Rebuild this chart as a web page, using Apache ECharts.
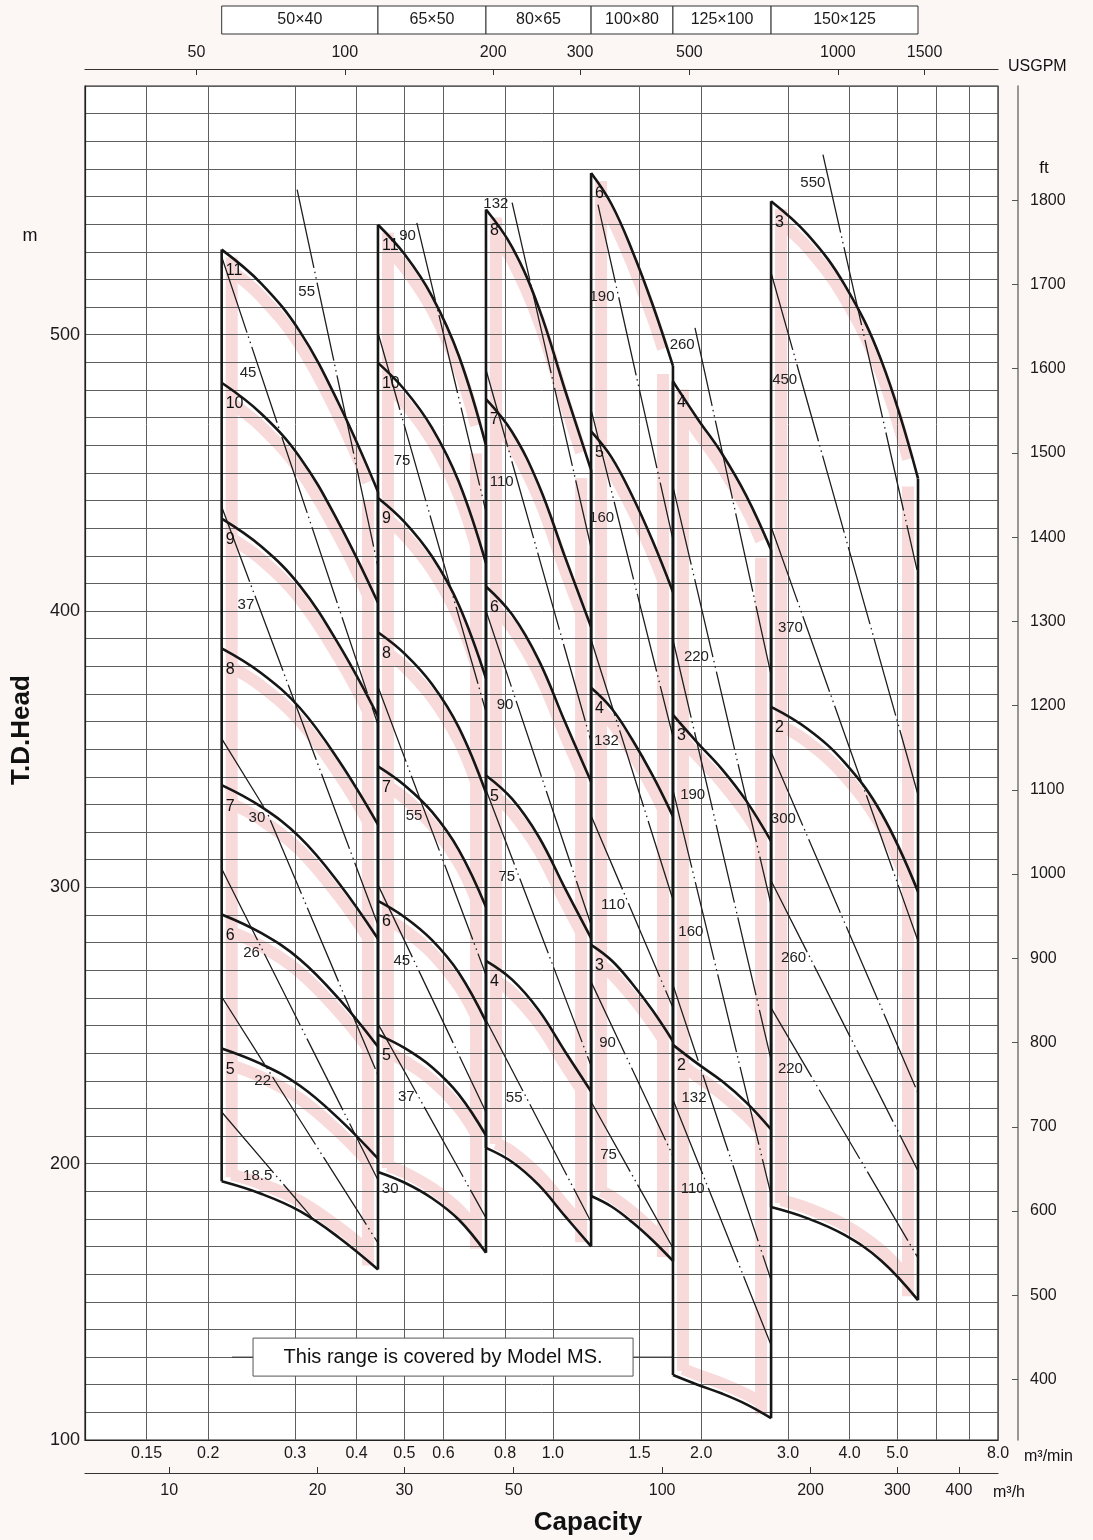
<!DOCTYPE html>
<html>
<head>
<meta charset="utf-8">
<script src="https://cdn.jsdelivr.net/npm/echarts@6.0.0/dist/echarts.min.js"></script>
<style>
html,body{margin:0;padding:0;background:#fcf6f5;}
#chart{width:1093px;height:1540px;}
</style>
</head>
<body>
<div id="chart"></div>
<script>
// ================= DATA =================
const sizeLabels = ['50×40','65×50','80×65','100×80','125×100','150×125'];

// axis ticks
const qGrid   = [0.15,0.2,0.3,0.4,0.5,0.6,0.8,1,1.5,2,3,4,5,6,7,8];
const qLabels = [0.15,0.2,0.3,0.4,0.5,0.6,0.8,1,1.5,2,3,4,5,8];
const m3hTicks = [10,20,30,50,100,200,300,400];
const gpmTicks = [50,100,200,300,500,1000,1500];
const ftTicks  = [400,500,600,700,800,900,1000,1100,1200,1300,1400,1500,1600,1700,1800];

// capacity points (m3/min) along the curves of each size
const qF1 = [0.213, 0.256, 0.307, 0.368, 0.442];
const qF2 = [0.442, 0.501, 0.569, 0.645, 0.732];
const qF3 = [0.732, 0.827, 0.936, 1.059, 1.196];
const qF4 = [1.196, 1.315, 1.448, 1.593, 1.753];
const qF5 = [1.753, 1.966, 2.203, 2.471, 2.772];
const qF6 = [2.772, 3.289, 3.906, 4.638, 5.506];

// stage labels and head (m) of each H-Q curve
const stF1 = ['11','10','9','8','7','6','5',''];
const hF1 = [
  [530.8, 518.6, 501.1, 475.1, 443.2],
  [482.6, 471.5, 455.6, 431.9, 403.0],
  [433.4, 423.4, 409.1, 387.9, 361.9],
  [386.5, 377.6, 364.9, 345.9, 322.7],
  [337.0, 329.2, 318.1, 301.6, 281.4],
  [290.2, 283.5, 273.9, 259.7, 242.3],
  [241.7, 236.1, 228.2, 216.3, 201.8],
  [193.6, 189.1, 182.8, 173.3, 161.7]
];
const stF2 = ['11','10','9','8','7','6','5',''];
const hF2 = [
  [539.8, 529.0, 513.9, 492.3, 459.9],
  [489.8, 480.0, 466.3, 446.7, 417.3],
  [440.9, 432.1, 419.7, 402.1, 375.6],
  [392.3, 384.5, 373.5, 357.8, 334.2],
  [343.8, 336.9, 327.3, 313.5, 292.9],
  [295.1, 289.2, 280.9, 269.1, 251.4],
  [246.7, 241.8, 234.9, 225.0, 210.2],
  [197.0, 193.1, 187.5, 179.7, 167.8]
];
const stF3 = ['8','7','6','5','4',''];
const hF3 = [
  [545.3, 531.7, 509.9, 479.9, 451.0],
  [476.7, 464.8, 445.7, 419.5, 394.2],
  [408.9, 398.7, 382.3, 359.8, 338.2],
  [340.5, 332.0, 318.4, 299.6, 281.6],
  [273.4, 266.6, 255.6, 240.6, 226.1],
  [205.7, 200.6, 192.3, 181.0, 170.1]
];
const stF4 = ['6','5','4','3',''];
const hF4 = [
  [558.5, 547.3, 530.6, 511.0, 488.7],
  [465.0, 455.7, 441.8, 425.5, 406.9],
  [372.2, 364.8, 353.6, 340.6, 325.7],
  [279.2, 273.6, 265.2, 255.5, 244.3],
  [188.3, 184.5, 178.9, 172.3, 164.8]
];
const stF5 = ['4','3','2',''];
const hF5 = [
  [483.1, 469.6, 457.0, 441.6, 422.2],
  [362.4, 352.3, 342.8, 331.2, 316.7],
  [243.0, 236.2, 229.9, 222.1, 212.4],
  [123.5, 120.0, 116.8, 112.9, 107.9]
];
const stF6 = ['3','2',''];
const hF6 = [
  [548.3, 536.2, 518.1, 490.7, 448.0],
  [365.3, 357.3, 345.2, 326.9, 298.4],
  [184.3, 180.2, 174.2, 164.9, 150.6]
];

// motor kW lines: [kW, head of label, points [Q, H]]
const kwF1 = [
  ['55', 515.6, [[0.303,552.5],[0.442,416.0]]],
  ['45', 486.2, [[0.213,528.2],[0.442,358.8]]],
  ['37', 402.3, [[0.213,437.7],[0.442,286.4]]],
  ['30', 325.2, [[0.213,353.8],[0.263,327.3],[0.442,232.1]]],
  ['26', 276.3, [[0.213,306.7],[0.442,194.1]]],
  ['22', 230.0, [[0.213,260.4],[0.442,171.3]]],
  ['18.5', 195.6, [[0.213,218.7],[0.325,180.4]]]
];
const kwF2 = [
  ['90', 535.8, [[0.530,540.5],[0.732,435.9]]],
  ['75', 454.4, [[0.442,500.7],[0.732,363.5]]],
  ['55', 325.9, [[0.442,372.6],[0.732,268.3]]],
  ['45', 273.4, [[0.442,300.9],[0.732,218.7]]],
  ['37', 224.2, [[0.442,250.6],[0.732,180.4]]]
];
const kwF3 = [
  ['132', 547.4, [[0.827,547.8],[1.196,422.9]]],
  ['110', 446.8, [[0.732,487.3],[1.196,352.7]]],
  ['90', 366.1, [[0.732,400.1],[1.196,286.4]]],
  ['75', 303.8, [[0.732,335.3],[1.196,235.4]]],
  ['55', 223.8, [[0.732,252.0],[1.196,178.9]]]
];
const kwF4 = [
  ['190', 513.8, [[1.235,547.1],[1.753,425.8]]],
  ['160', 433.8, [[1.196,472.9],[1.753,354.5]]],
  ['132', 353.0, [[1.196,389.6],[1.753,295.5]]],
  ['110', 293.7, [[1.196,325.9],[1.753,256.4]]],
  ['90', 243.7, [[1.196,265.8],[1.753,202.8]]],
  ['75', 203.2, [[1.196,222.4],[1.753,169.5]]]
];
const kwF5 = [
  ['260', 496.4, [[1.943,502.5],[2.772,376.9]]],
  ['220', 383.4, [[1.753,445.0],[2.772,293.7]]],
  ['190', 333.5, [[1.753,389.6],[2.772,237.6]]],
  ['160', 283.9, [[1.753,335.3],[2.772,188.7]]],
  ['132', 223.8, [[1.753,264.7],[2.772,157.9]]],
  ['110', 190.9, [[1.753,223.1],[2.772,134.4]]]
];
const kwF6 = [
  ['550', 555.0, [[3.532,565.2],[5.480,414.9]]],
  ['450', 483.7, [[2.772,522.4],[5.506,333.5]]],
  ['370', 393.9, [[2.772,430.5],[5.506,280.6]]],
  ['300', 324.8, [[2.772,349.0],[5.506,225.6]]],
  ['260', 274.5, [[2.772,302.4],[5.506,197.4]]],
  ['220', 234.3, [[2.772,256.4],[5.506,165.9]]]
];
// kW label standing alone (65x50, 30 kW): [kW, Q, H]
const kwLoneLabels = [['30', 0.450, 190.9]];

// note "covered by Model MS" leader lines (m3/min, m)
const msNoteLeft  = [[0.2235,130],[0.2466,130]];
const msNoteRight = [[1.455,130],[1.753,130]];
const msNoteText = 'This range is covered by Model MS.';

// ================= BUILD =================
const fams = [
  [qF1, stF1, hF1, kwF1],
  [qF2, stF2, hF2, kwF2],
  [qF3, stF3, hF3, kwF3],
  [qF4, stF4, hF4, kwF4],
  [qF5, stF5, hF5, kwF5],
  [qF6, stF6, hF6, kwF6]
];
const FONT = '"Liberation Sans", Arial, Helvetica, sans-serif';
const PINK = '#f8dada';
const INK = '#161616';

function trimX(pts, xa, xb) {
  const out = [];
  for (let i = 0; i < pts.length - 1; i++) {
    const a = pts[i], b = pts[i + 1];
    const s = Math.max(a[0], xa), e = Math.min(b[0], xb);
    if (e < s) continue;
    const lerp = x => [x, a[1] + (b[1] - a[1]) * (x - a[0]) / (b[0] - a[0])];
    if (!out.length) out.push(lerp(s));
    out.push(lerp(e));
  }
  return out;
}
function xOnLine(pts, y) {
  for (let i = 0; i < pts.length - 1; i++) {
    const a = pts[i], b = pts[i + 1];
    if ((y >= a[1] && y <= b[1]) || (y <= a[1] && y >= b[1])) {
      return a[0] + (b[0] - a[0]) * (y - a[1]) / (b[1] - a[1]);
    }
  }
  const first = y < pts[0][1];
  const a = first ? pts[0] : pts[pts.length - 2];
  const b = first ? pts[1] : pts[pts.length - 1];
  return a[0] + (b[0] - a[0]) * (y - a[1]) / (b[1] - a[1]);
}

const series = [];

// pink bands
series.push({
  type: 'custom', z: 1, silent: true, clip: false,
  data: fams.map(f => [f[0][0], f[2][0][0]]),
  renderItem: function (params, api) {
    const f = fams[params.dataIndex];
    const q = f[0], hs = f[2], n = hs.length, m = q.length;
    const xL = api.coord([q[0], hs[0][0]])[0];
    const xR = api.coord([q[m - 1], hs[0][0]])[0];
    const children = [];
    hs.forEach((h, i) => {
      const dy = (i === n - 1) ? -10 : 13;
      let pts = q.map((qq, j) => { const p = api.coord([qq, h[j]]); return [p[0], p[1] + dy]; });
      pts = trimX(pts, xL + 10, xR - 10);
      children.push({ type: 'polyline', shape: { points: pts, smooth: 0.4 },
        style: { stroke: PINK, lineWidth: 12, fill: null } });
    });
    const tL = api.coord([q[0], hs[0][0]])[1] + 8, bL = api.coord([q[0], hs[n - 1][0]])[1] - 4;
    const tR = api.coord([q[m - 1], hs[0][m - 1]])[1] + 8, bR = api.coord([q[m - 1], hs[n - 1][m - 1]])[1] - 4;
    children.push({ type: 'line', shape: { x1: xL + 10, y1: tL, x2: xL + 10, y2: bL }, style: { stroke: PINK, lineWidth: 12 } });
    children.push({ type: 'line', shape: { x1: xR - 10, y1: tR, x2: xR - 10, y2: bR }, style: { stroke: PINK, lineWidth: 12 } });
    return { type: 'group', children: children };
  }
});

// kW lines
const kwAll = [];
fams.forEach(f => f[3].forEach(k => kwAll.push(k)));
kwAll.forEach(k => series.push({
  type: 'line', data: k[2], symbol: 'none', z: 3, silent: true,
  lineStyle: { color: '#1e1e1e', width: 1.3, type: [80, 4, 1.5, 4, 1.5, 4] }
}));

// H-Q curves and size boundaries
fams.forEach(f => {
  const q = f[0], hs = f[2], n = hs.length, m = q.length;
  hs.forEach(h => series.push({
    type: 'line', data: q.map((qq, j) => [qq, h[j]]), smooth: 0.4, symbol: 'none', z: 4, silent: true,
    lineStyle: { color: INK, width: 2.6 }
  }));
  series.push({ type: 'line', data: [[q[0], hs[0][0]], [q[0], hs[n - 1][0]]], symbol: 'none', z: 4, silent: true,
    lineStyle: { color: INK, width: 2.6 } });
  series.push({ type: 'line', data: [[q[m - 1], hs[0][m - 1]], [q[m - 1], hs[n - 1][m - 1]]], symbol: 'none', z: 4, silent: true,
    lineStyle: { color: INK, width: 2.6 } });
});

// note leader lines
[msNoteLeft, msNoteRight].forEach(d => series.push({
  type: 'line', data: d, symbol: 'none', z: 3, silent: true, lineStyle: { color: '#333', width: 1 }
}));

// stage labels
const stageLabelData = [];
const stageLabelText = [];
fams.forEach(f => f[1].forEach((s, i) => {
  if (s) { stageLabelData.push([f[0][0], f[2][i][0]]); stageLabelText.push(s); }
}));
series.push({
  type: 'custom', z: 6, silent: true, clip: false, data: stageLabelData,
  renderItem: function (params, api) {
    const p = api.coord([api.value(0), api.value(1)]);
    return { type: 'text', x: p[0] + 4, y: p[1] + 13,
      style: { text: stageLabelText[params.dataIndex], fill: '#111', font: '16px ' + FONT,
        align: 'left', verticalAlign: 'top', textAlign: 'left', textVerticalAlign: 'top' } };
  }
});

// kW labels (left of their line)
series.push({
  type: 'custom', z: 6, silent: true, clip: false,
  data: kwAll.map(k => [k[2][0][0], k[1]]),
  renderItem: function (params, api) {
    const k = kwAll[params.dataIndex];
    const pts = k[2].map(p => api.coord(p));
    const y = api.coord([k[2][0][0], k[1]])[1];
    const x = xOnLine(pts, y);
    return { type: 'text', x: x - 4, y: y,
      style: { text: k[0], fill: '#222', font: '15px ' + FONT,
        align: 'right', verticalAlign: 'middle', textAlign: 'right', textVerticalAlign: 'middle' } };
  }
});
// lone kW labels
series.push({
  type: 'custom', z: 6, silent: true, clip: false,
  data: kwLoneLabels.map(k => [k[1], k[2]]),
  renderItem: function (params, api) {
    const p = api.coord([api.value(0), api.value(1)]);
    return { type: 'text', x: p[0], y: p[1],
      style: { text: kwLoneLabels[params.dataIndex][0], fill: '#222', font: '15px ' + FONT,
        align: 'left', verticalAlign: 'middle', textAlign: 'left', textVerticalAlign: 'middle' } };
  }
});

const axisText = { color: '#1a1a1a', fontFamily: FONT, fontSize: 16 };
const plain = v => String(v);

const option = {
  animation: false,
  backgroundColor: '#fcf6f5',
  textStyle: { fontFamily: FONT },
  grid: { left: 85, right: 95, top: 86, bottom: 100, show: true, backgroundColor: '#ffffff',
    borderColor: '#222', borderWidth: 1.2, outerBoundsMode: 'none', containLabel: false },
  xAxis: [
    { type: 'log', logBase: 10, min: 0.1125, max: 8, position: 'bottom', z: 2,
      axisLine: { show: true, onZero: false, lineStyle: { color: '#222', width: 1.2 } },
      axisTick: { show: false, customValues: qGrid },
      axisLabel: Object.assign({ customValues: qLabels, margin: 6,
        formatter: v => (v >= 1 ? Number(v).toFixed(1) : String(v)) }, axisText),
      splitLine: { show: true, lineStyle: { color: '#5e5e5e', width: 1 } },
      minorTick: { show: false }, minorSplitLine: { show: false } },
    { type: 'log', logBase: 10, min: 29.72, max: 2113.4, position: 'top', offset: 17, z: 2,
      axisLine: { show: true, onZero: false, lineStyle: { color: '#333', width: 1.2 } },
      axisTick: { show: true, inside: true, length: 6, customValues: gpmTicks, lineStyle: { color: '#333' } },
      axisLabel: Object.assign({ customValues: gpmTicks, margin: 8, formatter: plain }, axisText),
      splitLine: { show: false } },
    { type: 'log', logBase: 10, min: 6.75, max: 480, position: 'bottom', offset: 33, z: 2,
      axisLine: { show: true, onZero: false, lineStyle: { color: '#333', width: 1.2 } },
      axisTick: { show: true, inside: true, length: 6, customValues: m3hTicks, lineStyle: { color: '#333' } },
      axisLabel: Object.assign({ customValues: m3hTicks, margin: 10, formatter: plain }, axisText),
      splitLine: { show: false } }
  ],
  yAxis: [
    { type: 'value', min: 100, max: 590, interval: 10, position: 'left', z: 2,
      axisLine: { show: true, onZero: false, lineStyle: { color: '#222', width: 1.2 } },
      axisTick: { show: false },
      axisLabel: Object.assign({}, axisText, { fontSize: 18, margin: 5,
        formatter: v => (v % 100 === 0 ? String(v) : '') }),
      splitLine: { show: true, lineStyle: { color: '#5e5e5e', width: 1 } } },
    { type: 'value', min: 328.084, max: 1935.696, position: 'right', offset: 20, z: 2,
      axisLine: { show: true, onZero: false, lineStyle: { color: '#777', width: 1.5 } },
      axisTick: { show: true, inside: true, length: 6, customValues: ftTicks, lineStyle: { color: '#555' } },
      axisLabel: Object.assign({ customValues: ftTicks, margin: 12, formatter: plain }, axisText),
      splitLine: { show: false } }
  ],
  series: series
};

const chart = echarts.init(document.getElementById('chart'), null, { renderer: 'canvas' });
chart.setOption(option);

// ---- annotations positioned through the axes ----
const bounds = fams.map(f => f[0][0]).concat([qF6[qF6.length - 1]]);
const bx = bounds.map(q => chart.convertToPixel({ xAxisIndex: 0 }, q));
const graphics = [];
for (let i = 0; i < sizeLabels.length; i++) {
  graphics.push({ type: 'rect', shape: { x: bx[i], y: 6, width: bx[i + 1] - bx[i], height: 28 },
    style: { fill: '#fff', stroke: '#333', lineWidth: 1 }, z: 10 });
  graphics.push({ type: 'text', x: (bx[i] + bx[i + 1]) / 2, y: 20, z: 11,
    style: { text: sizeLabels[i], font: '16px ' + FONT, fill: '#1a1a1a', align: 'center', verticalAlign: 'middle' } });
}
const nx0 = chart.convertToPixel({ xAxisIndex: 0 }, msNoteLeft[1][0]);
const nx1 = chart.convertToPixel({ xAxisIndex: 0 }, msNoteRight[0][0]);
const ny = chart.convertToPixel({ yAxisIndex: 0 }, msNoteLeft[0][1]);
graphics.push({ type: 'rect', shape: { x: nx0, y: ny - 19, width: nx1 - nx0, height: 38 },
  style: { fill: '#fff', stroke: '#555', lineWidth: 1 }, z: 10 });
graphics.push({ type: 'text', x: (nx0 + nx1) / 2, y: ny, z: 11,
  style: { text: msNoteText, font: '20px ' + FONT, fill: '#111', align: 'center', verticalAlign: 'middle' } });
// axis titles / units
graphics.push({ type: 'text', x: 30, y: 236, z: 11, style: { text: 'm', font: '18px ' + FONT, fill: '#111', align: 'center', verticalAlign: 'middle' } });
graphics.push({ type: 'text', x: 22, y: 730, rotation: Math.PI / 2, z: 11, style: { text: 'T.D.Head', font: 'bold 26px ' + FONT, fill: '#111', align: 'center', verticalAlign: 'middle' } });
graphics.push({ type: 'text', x: 588, y: 1523, z: 11, style: { text: 'Capacity', font: 'bold 26px ' + FONT, fill: '#111', align: 'center', verticalAlign: 'middle' } });
graphics.push({ type: 'text', x: 1008, y: 67, z: 11, style: { text: 'USGPM', font: '16px ' + FONT, fill: '#111', align: 'left', verticalAlign: 'middle' } });
graphics.push({ type: 'text', x: 1044, y: 168, z: 11, style: { text: 'ft', font: '17px ' + FONT, fill: '#111', align: 'center', verticalAlign: 'middle' } });
graphics.push({ type: 'text', x: 1024, y: 1457, z: 11, style: { text: 'm³/min', font: '16px ' + FONT, fill: '#111', align: 'left', verticalAlign: 'middle' } });
graphics.push({ type: 'text', x: 993, y: 1493, z: 11, style: { text: 'm³/h', font: '16px ' + FONT, fill: '#111', align: 'left', verticalAlign: 'middle' } });
chart.setOption({ graphic: graphics });
</script>
</body>
</html>
